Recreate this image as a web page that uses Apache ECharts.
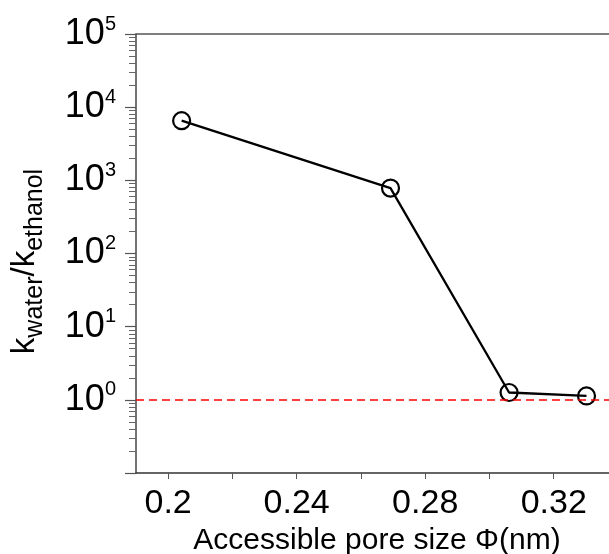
<!DOCTYPE html>
<html>
<head>
<meta charset="utf-8">
<script src="https://cdn.jsdelivr.net/npm/echarts@6/dist/echarts.min.js"></script>
<style>html,body{margin:0;padding:0;background:#fff;}#c{width:609px;height:554px;}</style>
</head>
<body>
<div id="c"></div>
<script>
// Data
const poreSize = [0.2042, 0.2692, 0.3061, 0.3302];
const selectivity = [6530, 783, 1.26, 1.13];
const xLabelValues = [0.2, 0.24, 0.28, 0.32];
const xTickValues = [0.2, 0.22, 0.24, 0.26, 0.28, 0.30, 0.32, 0.34];
const yMajorValues = [0.1, 1, 10, 100, 1000, 10000, 100000];
const yLabelValues = [1, 10, 100, 1000, 10000, 100000];
const yMinorValues = [];
[0.1, 1, 10, 100, 1000, 10000].forEach(d => { [2,3,4,5,6,7,8,9].forEach(m => yMinorValues.push(+(m * d).toPrecision(3))); });
const referenceLine = 1;

const FONT = 'Arial, "Liberation Sans", Helvetica, sans-serif';
const chart = echarts.init(document.getElementById('c'), null, {renderer: 'canvas'});
const option = {
  animation: false,
  backgroundColor: '#fff',
  grid: {left: 136, right: -9, top: 34, bottom: 81, containLabel: false, outerBoundsMode: 'none'},
  xAxis: [{
    type: 'value', min: 0.19, max: 0.34, position: 'bottom',
    name: 'Accessible pore size \u03A6(nm)', nameLocation: 'middle', nameGap: 53,
    nameTextStyle: {fontFamily: FONT, fontSize: 30, color: '#000'},
    axisLine: {show: true, onZero: false, lineStyle: {color: '#333', width: 1.5}},
    axisTick: {show: true, inside: false, length: 6, customValues: xTickValues, lineStyle: {color: '#555', width: 1}},
    axisLabel: {show: true, margin: 14, customValues: xLabelValues, fontFamily: FONT, fontSize: 34, color: '#000',
      formatter: v => String(+v.toFixed(2))},
    splitLine: {show: false}
  }, {
    type: 'value', min: 0.19, max: 0.34, position: 'top',
    axisLine: {show: true, onZero: false, lineStyle: {color: '#555', width: 1.5}},
    axisTick: {show: false}, axisLabel: {show: false}, splitLine: {show: false}
  }],
  yAxis: [{
    type: 'log', min: 0.1, max: 100000, position: 'left',
    name: '{k|k}{s|water}{k|/k}{s|ethanol}', nameLocation: 'middle', nameGap: 88, nameRotate: 90,
    nameTextStyle: {fontFamily: FONT, color: '#000', padding: [0, 16, 0, 0],
      rich: {k: {fontFamily: FONT, fontSize: 33, color: '#000', verticalAlign: 'top', lineHeight: 40},
             s: {fontFamily: FONT, fontSize: 25, color: '#000', verticalAlign: 'bottom', lineHeight: 40}}},
    axisLine: {show: true, onZero: false, lineStyle: {color: '#444', width: 1.5}},
    axisTick: {show: true, inside: false, length: 11, customValues: yMajorValues, lineStyle: {color: '#555', width: 1.2}},
    axisLabel: {show: true, margin: 20, customValues: yLabelValues, fontFamily: FONT, color: '#000',
      formatter: v => {
        const e = Math.round(Math.log10(v));
        return e < 0 ? '' : '{b|10}{sup|' + e + '}';
      },
      rich: {b: {fontFamily: FONT, fontSize: 36, color: '#000', verticalAlign: 'middle', lineHeight: 40},
             sup: {fontFamily: FONT, fontSize: 20, color: '#000', verticalAlign: 'top', lineHeight: 40}}},
    splitLine: {show: false}
  }, {
    type: 'log', min: 0.1, max: 100000, position: 'left',
    axisLine: {show: false},
    axisTick: {show: true, length: 7, customValues: yMinorValues, lineStyle: {color: '#666', width: 1}},
    axisLabel: {show: false}, splitLine: {show: false}
  }],
  series: [{
    type: 'line', xAxisIndex: 0, yAxisIndex: 0,
    data: poreSize.map((x, i) => [x, selectivity[i]]),
    symbol: 'circle', symbolSize: 17,
    itemStyle: {color: 'rgba(0,0,0,0)', borderColor: '#000', borderWidth: 2.2},
    lineStyle: {color: '#000', width: 2.3},
    z: 3,
    markLine: {
      silent: true, symbol: ['none', 'none'], label: {show: false},
      lineStyle: {color: '#ff0000', type: [8, 5], width: 1.5},
      data: [{yAxis: referenceLine}]
    }
  }]
};
chart.setOption(option);
</script>
</body>
</html>
